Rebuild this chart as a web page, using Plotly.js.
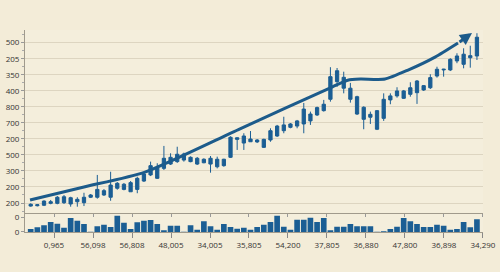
<!DOCTYPE html>
<html><head><meta charset="utf-8">
<script src="https://cdn.plot.ly/plotly-3.0.1.min.js"></script>
<style>html,body{margin:0;padding:0;background:#f3ecd8;}#chart{width:500px;height:272px;}</style>
</head><body><div id="chart"></div>
<script>
const xTickLabels = ["0,965","56,098","56,808","48,005","34,005","35,805","54,200","37,805","36,880","47,800","36,898","34,290"];
const yTickLabels = ["200","200","300","500","200","700","800","400","350","205","500"];
const volTickLabels = ["0","0"];

const openV  = [-0.19,-0.17,-0.14,-0.02,-0.02,0.02,0.33,0.08,0.02,0.36,0.36,0.50,0.36,0.92,1.17,0.70,0.85,1.37,1.75,2.20,2.16,2.43,2.58,3.06,2.85,2.79,2.51,2.79,2.26,2.73,2.85,4.07,3.74,3.82,3.93,3.97,3.93,4.18,4.51,4.72,4.80,5.86,5.12,5.49,5.76,6.47,7.57,7.84,7.16,6.63,5.97,5.35,5.76,5.28,6.43,6.68,6.99,6.78,7.61,7.05,7.19,7.92,8.30,8.30,8.86,8.65,9.06,9.17];
const highV  = [-0.02,-0.06,0.17,0.19,0.44,0.50,0.39,0.36,0.64,0.56,1.75,0.87,1.95,1.31,1.25,1.37,1.64,1.87,2.58,2.48,3.56,3.10,3.51,3.14,2.91,2.87,2.79,2.93,2.89,2.76,4.16,4.10,4.35,4.49,3.99,4.01,4.66,4.87,5.38,4.99,5.18,6.24,5.70,6.01,6.43,8.47,8.42,8.19,7.49,6.69,6.03,5.70,5.80,6.84,6.84,7.22,7.05,7.53,7.67,7.36,8.03,8.50,8.37,9.03,9.34,9.65,9.81,10.59];
const lowV   = [-0.23,-0.21,-0.19,-0.08,-0.08,-0.06,-0.23,-0.23,-0.19,0.31,0.27,0.44,0.14,0.83,0.79,0.69,0.61,1.31,1.68,1.50,2.06,2.37,2.50,2.58,2.54,2.37,2.48,1.89,2.16,2.26,2.81,3.31,3.31,3.81,3.74,3.43,3.82,4.12,4.35,4.66,4.66,4.35,4.87,5.43,5.70,6.32,7.24,6.84,6.26,5.49,4.60,4.93,4.55,5.12,6.16,6.57,6.49,6.63,6.18,6.99,7.11,7.82,7.88,8.23,8.72,8.40,8.44,8.92];
const closeV = [-0.08,-0.11,0.12,0.08,0.36,0.39,-0.06,0.23,0.36,0.50,0.85,0.77,1.12,1.23,0.85,1.27,1.54,1.81,2.33,1.54,2.79,2.85,3.04,2.68,2.58,2.43,2.73,2.43,2.73,2.33,4.10,3.97,4.18,3.99,3.81,3.47,4.51,4.80,4.87,4.93,5.12,4.93,5.55,5.95,6.16,7.88,8.25,7.16,6.47,5.55,5.22,5.53,4.60,6.47,6.68,6.99,6.53,7.19,6.88,7.32,7.82,8.34,8.34,8.96,9.17,9.28,9.19,10.34];
const volumeV = [9,14,20,30,25,13,42,34,24,1,17,22,15,49,28,9,29,34,36,24,5,19,19,1,20,7,32,17,7,24,15,10,13,7,15,22,30,49,16,7,37,37,43,30,42,5,16,16,24,17,17,17,1,2,9,16,42,32,24,15,15,22,19,7,9,30,14,38];

const trendX = [0.9, 9.0, 18.16, 32.43, 46.24, 48.6, 50.5, 54.2, 57.65, 61.71, 65.16];
const trendY = [0.19, 1.0, 1.93, 4.63, 7.23, 7.66, 7.73, 7.73, 8.29, 9.10, 9.98];
const arrowTip = [67.26, 10.6];

const idx = openV.map((_, i) => i + 1);
const xTickVals = xTickLabels.map((_, i) => 4.5 + 5.855 * i);
const yTickVals = yTickLabels.map((_, i) => i);

const blue = '#1b5e94';
const lineBlue = '#1c5b8b';

const traces = [
  {
    type: 'candlestick', x: idx, open: openV, high: highV, low: lowV, close: closeV,
    xaxis: 'x', yaxis: 'y',
    increasing: {line: {color: blue, width: 1}, fillcolor: blue},
    decreasing: {line: {color: blue, width: 1}, fillcolor: blue},
    whiskerwidth: 0, hoverinfo: 'skip'
  },
  {
    type: 'scatter', mode: 'lines', x: trendX, y: trendY,
    xaxis: 'x', yaxis: 'y',
    line: {color: lineBlue, width: 3, shape: 'spline', smoothing: 0.6}, hoverinfo: 'skip'
  },
  {
    type: 'bar', x: idx, y: volumeV, xaxis: 'x2', yaxis: 'y2',
    marker: {color: blue}, hoverinfo: 'skip'
  }
];

const font = {family: 'Open Sans, sans-serif', size: 8, color: '#333'};
const xr = [0.144, 68.91];

const layout = {
  width: 500, height: 272,
  margin: {l: 25, r: 17, t: 30, b: 40},
  paper_bgcolor: '#f3ecd8', plot_bgcolor: '#f4eedc',
  showlegend: false, bargap: 0.15, boxgap: 0.3,
  font: font,
  xaxis: {
    domain: [0, 1], anchor: 'y', range: xr, rangeslider: {visible: false},
    tickmode: 'array', tickvals: xTickVals, ticktext: xTickLabels, showticklabels: false,
    ticks: 'outside', ticklen: 3, tickcolor: '#999', showgrid: false,
    showline: true, linecolor: '#a09a8c', linewidth: 1, zeroline: false, fixedrange: true
  },
  yaxis: {
    domain: [0.0955, 1], anchor: 'x', range: [-0.605, 10.79],
    tickmode: 'array', tickvals: yTickVals, ticktext: yTickLabels,
    ticks: 'outside', ticklen: 3, tickcolor: '#999', tickfont: font,
    showgrid: true, gridcolor: '#ddd5c1', gridwidth: 1,
    showline: true, linecolor: '#a09a8c', zeroline: false,
    minor: {tickmode: 'linear', tick0: 0, dtick: 0.5, ticks: 'outside', ticklen: 2, tickcolor: '#aaa', showgrid: false}
  },
  xaxis2: {
    domain: [0, 1], anchor: 'y2', range: xr,
    tickmode: 'array', tickvals: xTickVals, ticktext: xTickLabels, tickfont: font,
    ticks: 'outside', ticklen: 5, tickcolor: '#888', showgrid: false,
    showline: true, linecolor: '#a09a8c', zeroline: false
  },
  yaxis2: {
    domain: [0, 0.0955], anchor: 'x2', range: [0, 58],
    tickmode: 'array', tickvals: [0, 44], ticktext: volTickLabels, tickfont: font,
    ticks: 'outside', ticklen: 3, tickcolor: '#999', showgrid: false,
    showline: true, linecolor: '#a09a8c', zeroline: false
  },
  annotations: [{
    x: arrowTip[0], y: arrowTip[1], xref: 'x', yref: 'y',
    ax: trendX[trendX.length - 1], ay: trendY[trendY.length - 1], axref: 'x', ayref: 'y',
    showarrow: true, arrowhead: 2, arrowsize: 0.8, arrowwidth: 3, arrowcolor: lineBlue, text: ''
  }]
};

Plotly.newPlot('chart', traces, layout, {staticPlot: true, displayModeBar: false});
</script>
</body></html>
